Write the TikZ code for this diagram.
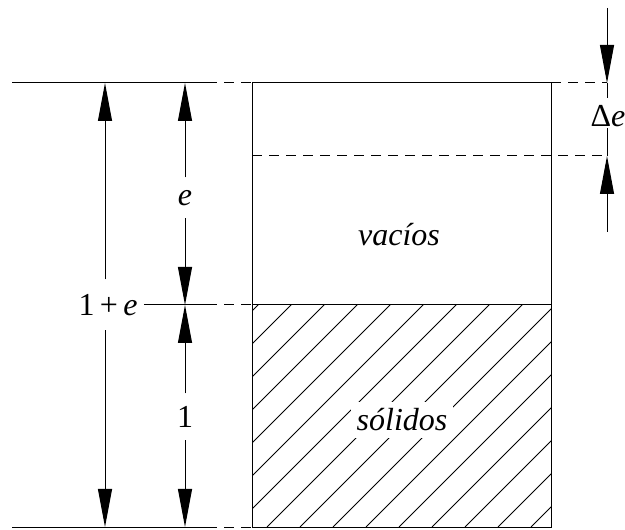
\documentclass[tikz,border=0pt]{standalone}
\usepackage{fontspec}
\setmainfont{Liberation Serif}
\usetikzlibrary{arrows.meta,positioning}

\begin{document}
\begin{tikzpicture}[
    x=0.5pt,
    y=0.5pt,
    line width=0.5pt,
    dimarrow/.style={
        -{Triangle[length=19pt,width=7pt]}
    },
    guide/.style={
        dash pattern=on 5pt off 3.5pt
    },
    lbl/.style={
        fill=white,
        inner xsep=3pt,
        font=\fontsize{16}{19}\selectfont
    }
]
\useasboundingbox (0,0) rectangle (625,529);

% Box corners
\coordinate (tl) at (252,446);
\coordinate (tr) at (551,446);
\coordinate (ml) at (252,224);
\coordinate (mr) at (551,224);
\coordinate (bl) at (252,2);
\coordinate (br) at (551,2);
\coordinate (dl) at (252,373);
\coordinate (dr) at (607,373);

% Hatching of the solids
\begin{scope}
    \clip (bl) rectangle (mr);
    \foreach \k in {-8,...,9}
        \draw[line width=0.4pt] ({267+33*\k},2) -- ++(240,240);
\end{scope}

% Labels in the box
\node[lbl] (solidos) at (402,109) {\textit{sólidos}};
\node[lbl] (vacios) at (399,294) {\textit{vacíos}};

% Box
\draw (tl) rectangle (br);
\draw (ml) -- (mr);
\draw[guide] (dl) -- (dr);

% Reference lines
\coordinate (topstart) at (12,446);
\coordinate (topbreak) at (207,446);
\coordinate (botstart) at (12,2);
\coordinate (botbreak) at (207,2);
\coordinate (midbreak) at (207,224);
\coordinate (topright) at (607,446);
\draw (topstart) -- (topbreak);
\draw[guide] (topbreak) -- (tl);
\draw (botstart) -- (botbreak);
\draw[guide] (botbreak) -- (bl);
\draw[guide] (tr) -- (topright);

% Outer dimension 1+e
\coordinate (outertop) at (105,446);
\coordinate (outerbot) at (105,2);
\node[lbl, minimum height=25pt] (onepluse) at (108,224) {1\,+\,\textit{e}};
\draw[dimarrow] (onepluse.north -| outertop) -- (outertop);
\draw[dimarrow] (onepluse.south -| outerbot) -- (outerbot);
\draw (onepluse.east) -- (midbreak);
\draw[guide] (midbreak) -- (ml);

% Inner dimensions e and 1
\coordinate (innertop) at (185,446);
\coordinate (innermid) at (185,224);
\coordinate (innerbot) at (185,2);
\node[lbl, minimum height=20pt] (e) at (185,331) {\textit{e}};
\node[lbl, minimum height=23pt] (one) at (185,112) {1};
\draw[dimarrow] (e) -- (innertop);
\draw[dimarrow] (e) -- (innermid);
\draw[dimarrow] (one) -- (innermid);
\draw[dimarrow] (one) -- (innerbot);

% Delta e
\coordinate (dtop) at (607,521);
\coordinate (dext1) at (607,431);
\coordinate (dbot) at (607,297);
\coordinate (dext2) at (607,401);
\node[font=\fontsize{16}{19}\selectfont] (de) at (608,413) {Δ\textit{e}};
\draw[dimarrow] (dtop) -- (topright);
\draw (topright) -- (dext1);
\draw[dimarrow] (dbot) -- (dr);
\draw (dr) -- (dext2);

\end{tikzpicture}
\end{document}
